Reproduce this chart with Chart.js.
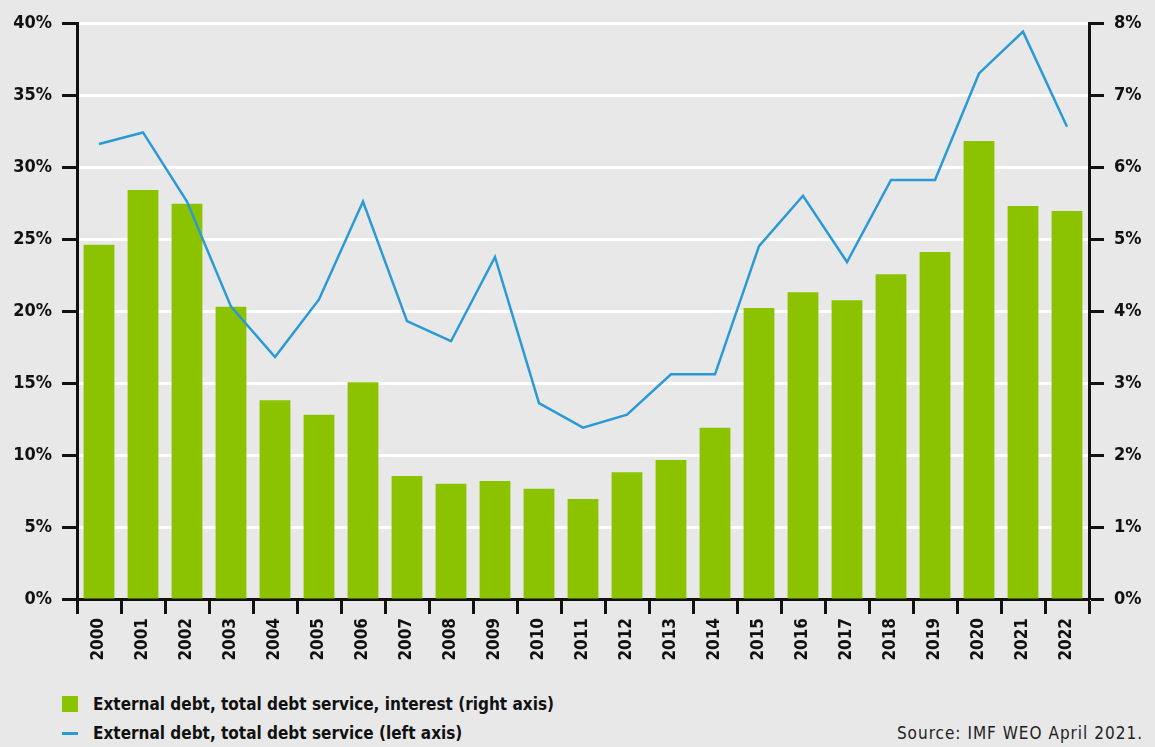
<!DOCTYPE html>
<html>
<head>
<meta charset="utf-8"/>
<style>
  html,body{margin:0;padding:0;background:#e8e8e8;width:1155px;height:747px;overflow:hidden;
    font-family:"DejaVu Sans Condensed","DejaVu Sans",sans-serif;}
  .wrap{position:absolute;left:0;top:0;width:1155px;height:680px;}
  .legend{position:absolute;left:62px;font-weight:bold;font-size:17px;color:#111;}
  .legend .row{position:absolute;left:0;white-space:nowrap;display:flex;align-items:center;}
  .sw{display:inline-block;width:16px;height:16px;background:#8cc300;margin-right:15px;}
  .ln{display:inline-block;width:16px;height:3px;background:#2a9ad6;margin-right:15px;}
  .src{position:absolute;right:12px;top:723px;font-size:17px;letter-spacing:1px;color:#222;}
</style>
</head>
<body>
  <div class="wrap"><canvas id="c" width="1155" height="680"></canvas></div>
  <div class="legend">
    <div class="row" style="top:694px"><span class="sw"></span>External debt, total debt service, interest (right axis)</div>
    <div class="row" style="top:723px"><span class="ln"></span>External debt, total debt service (left axis)</div>
  </div>
  <div class="src">Source: IMF WEO April 2021.</div>
  <script src="https://cdn.jsdelivr.net/npm/chart.js@4.4.0/dist/chart.umd.min.js"></script>
  <script>
    const years = ["2000","2001","2002","2003","2004","2005","2006","2007","2008","2009","2010","2011",
                   "2012","2013","2014","2015","2016","2017","2018","2019","2020","2021","2022"];
    // interest, right axis (%)
    const interest = [4.92,5.68,5.49,4.06,2.76,2.56,3.01,1.71,1.60,1.64,1.53,1.39,
                      1.76,1.93,2.38,4.04,4.26,4.15,4.51,4.82,6.36,5.46,5.39];
    // total debt service, left axis (%)
    const debtService = [31.6,32.4,27.6,20.3,16.8,20.8,27.6,19.3,17.9,23.75,13.6,11.9,
                         12.8,15.6,15.6,24.5,28.0,23.4,29.1,29.1,36.5,39.4,32.8];
    const leftTicks = [0,5,10,15,20,25,30,35,40];
    const rightTicks = [0,1,2,3,4,5,6,7,8];

    const tickFont = { family: "'DejaVu Sans Condensed','DejaVu Sans',sans-serif", size: 18, weight: "bold" };

    new Chart(document.getElementById("c"), {
      data: {
        labels: years,
        datasets: [
          { type: "line", data: debtService, yAxisID: "yL", borderColor: "#2a9ad6", borderWidth: 2.5,
            pointRadius: 0, tension: 0, order: 0 },
          { type: "bar", data: interest, yAxisID: "yR", backgroundColor: "#8cc300",
            barPercentage: 0.7, categoryPercentage: 1.0, order: 1 }
        ]
      },
      options: {
        responsive: false,
        animation: false,
        layout: { padding: { top: 23, left: 0, right: 0, bottom: 0 } },
        plugins: { legend: { display: false }, tooltip: { enabled: false } },
        scales: {
          x: {
            offset: true,
            grid: { offset: true, drawOnChartArea: false, tickLength: 15, tickColor: "#111", tickWidth: 3 },
            border: { color: "#111", width: 3 },
            ticks: { color: "#111", font: { ...tickFont, size: 17 }, minRotation: 90, maxRotation: 90, padding: 4 },
            afterFit: s => { s.height = 81; }
          },
          yL: {
            position: "left", min: 0, max: 40,
            afterBuildTicks: s => { s.ticks = leftTicks.map(v => ({ value: v })); },
            grid: { color: "#ffffff", lineWidth: 3, tickLength: 15, tickColor: "#111", tickWidth: 3 },
            border: { color: "#111", width: 3 },
            ticks: { color: "#111", font: tickFont, padding: 10, callback: v => v + "%" },
            afterFit: s => { s.width = 77; }
          },
          yR: {
            position: "right", min: 0, max: 8,
            afterBuildTicks: s => { s.ticks = rightTicks.map(v => ({ value: v })); },
            grid: { drawOnChartArea: false, tickLength: 15, tickColor: "#111", tickWidth: 3 },
            border: { color: "#111", width: 3 },
            ticks: { color: "#111", font: tickFont, padding: 10, callback: v => v + "%" },
            afterFit: s => { s.width = 66; }
          }
        }
      }
    });
  </script>
</body>
</html>
